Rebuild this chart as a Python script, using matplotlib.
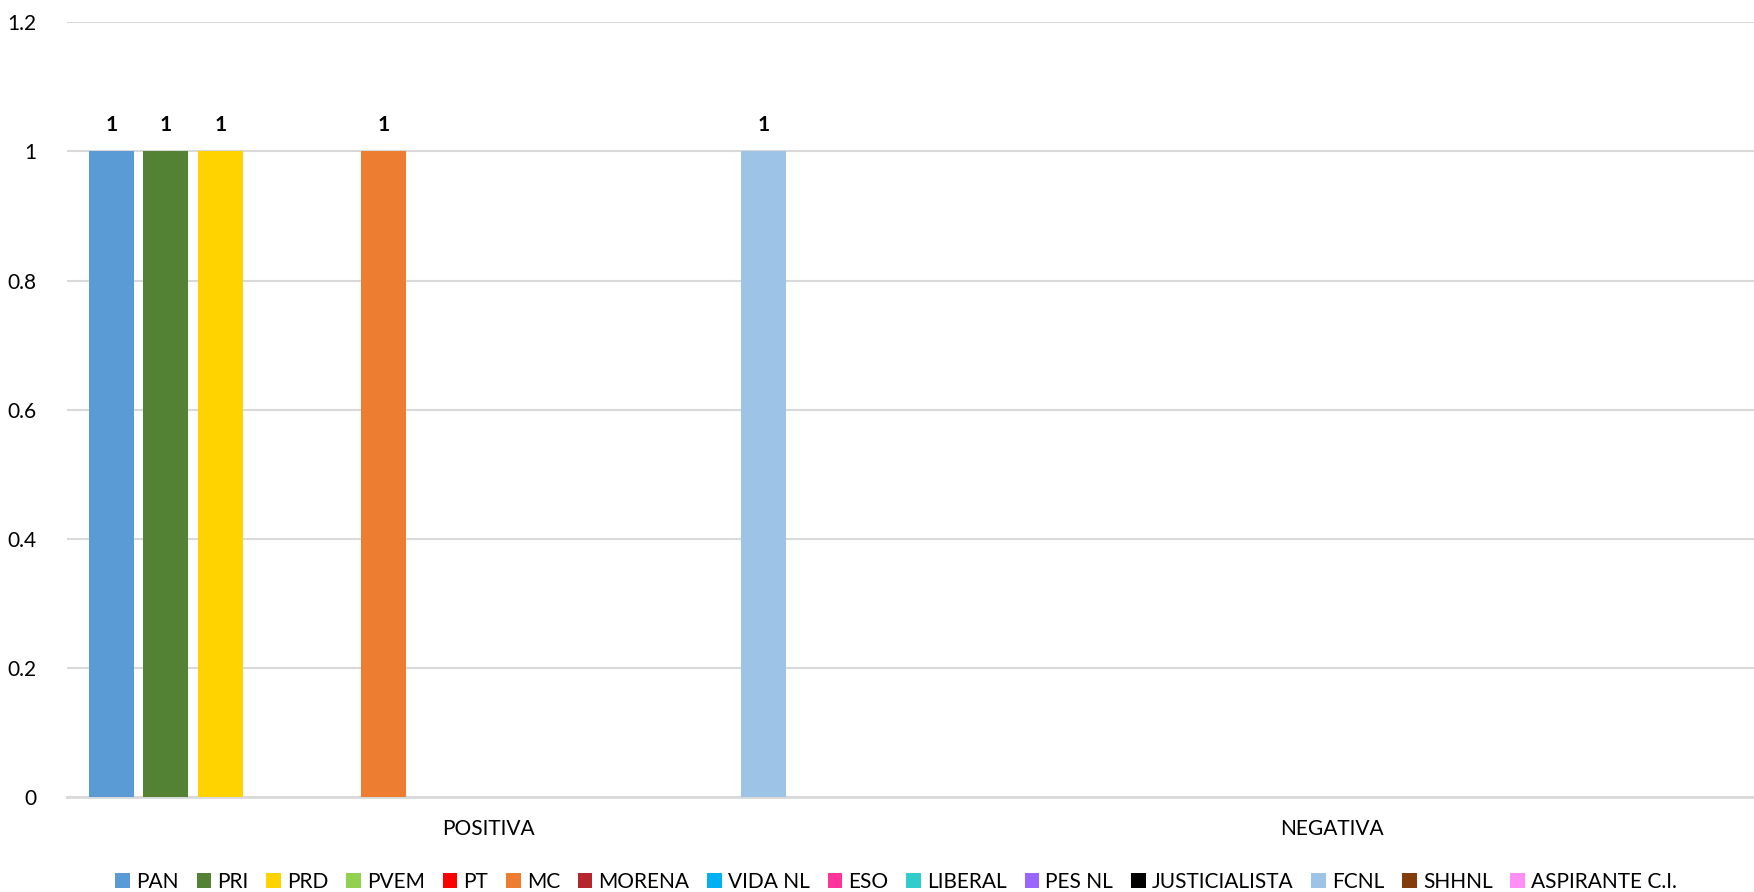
import numpy as np
import matplotlib.pyplot as plt

# datos
categorias = ["POSITIVA", "NEGATIVA"]
partidos = ["PAN", "PRI", "PRD", "PVEM", "PT", "MC", "MORENA", "VIDA NL", "ESO",
            "LIBERAL", "PES NL", "JUSTICIALISTA", "FCNL", "SHHNL", "ASPIRANTE C.I."]
valores = {
    "PAN": [1, 0], "PRI": [1, 0], "PRD": [1, 0], "PVEM": [0, 0], "PT": [0, 0],
    "MC": [1, 0], "MORENA": [0, 0], "VIDA NL": [0, 0], "ESO": [0, 0],
    "LIBERAL": [0, 0], "PES NL": [0, 0], "JUSTICIALISTA": [0, 0],
    "FCNL": [1, 0], "SHHNL": [0, 0], "ASPIRANTE C.I.": [0, 0],
}
colores = ["#5B9BD5", "#548235", "#FFD300", "#92D050", "#FF0000", "#ED7D31",
           "#B5272D", "#00B0F0", "#FF3399", "#33CCCC", "#9966FF", "#000000",
           "#9DC3E6", "#843C0C", "#FF8FF5"]
yticks = [0, 0.2, 0.4, 0.6, 0.8, 1, 1.2]

plt.rcParams['font.family'] = ['Lato', 'DejaVu Sans']

fig = plt.figure(figsize=(17.54, 8.92), dpi=100)
ax = fig.add_axes([0.038, 0.1065, 0.962, 0.8685])

x = np.arange(len(categorias))
slot = 0.0644
ancho = 0.0533
desfase = 0.004  # pequeño corrimiento del grupo a la derecha
n = len(partidos)
for i, (p, c) in enumerate(zip(partidos, colores)):
    pos = x + (i - (n - 1) / 2) * slot + desfase
    vals = valores[p]
    bars = ax.bar(pos, vals, width=ancho, color=c, label=p, zorder=3)
    for b, v in zip(bars, vals):
        if v > 0:
            ax.text(b.get_x() + b.get_width() / 2, v + 0.026, f"{v:g}",
                    ha='center', va='bottom', fontsize=15, fontweight='bold')

ax.set_xlim(-0.5, 1.5)
ax.set_ylim(0, 1.2)
ax.set_yticks(yticks)
ax.set_yticklabels([f"{t:g}" for t in yticks], fontsize=15)
ax.set_xticks(x)
ax.set_xticklabels(categorias, fontsize=15)
ax.tick_params(axis='both', length=0)
ax.tick_params(axis='y', pad=22)
ax.tick_params(axis='x', pad=16)
ax.yaxis.grid(True, color='#D9D9D9', lw=1.5, zorder=0)
for s in ['top', 'right', 'left']:
    ax.spines[s].set_visible(False)
ax.spines['bottom'].set_color('#D9D9D9')
ax.spines['bottom'].set_linewidth(2)
ax.set_axisbelow(True)

fig.legend(loc='lower center', bbox_to_anchor=(0.511, -0.021), ncol=n,
           frameon=False, fontsize=15, handlelength=0.7, handleheight=0.7,
           handletextpad=0.3, columnspacing=0.85)

fig.savefig("out.png", dpi=100)
